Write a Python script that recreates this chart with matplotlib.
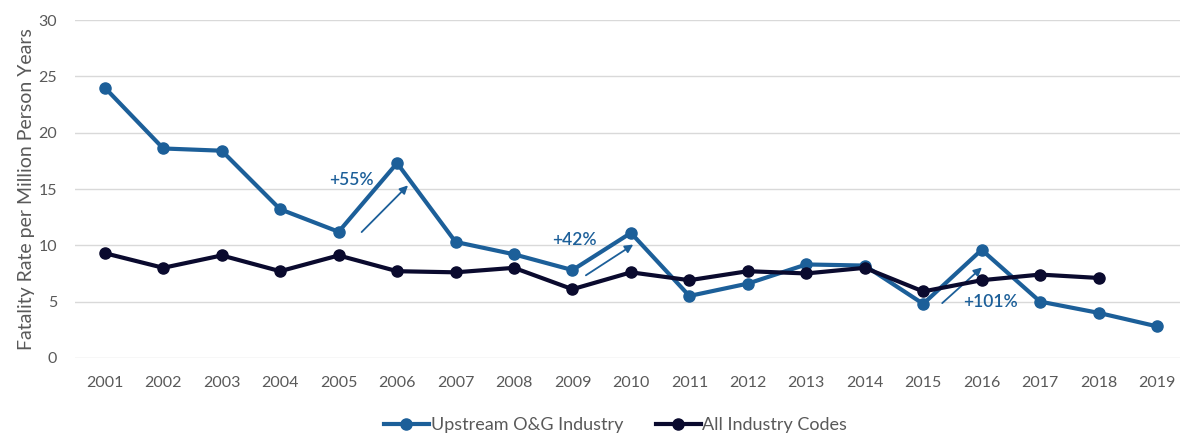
import matplotlib.pyplot as plt

years = list(range(2001, 2020))
upstream = [24.0, 18.6, 18.4, 13.2, 11.2, 17.3, 10.3, 9.2, 7.8, 11.1,
            5.5, 6.6, 8.3, 8.2, 4.8, 9.6, 5.0, 4.0, 2.8]
all_years = list(range(2001, 2019))
all_industry = [9.3, 8.0, 9.1, 7.7, 9.1, 7.7, 7.6, 8.0, 6.1, 7.6,
                6.9, 7.7, 7.5, 8.0, 5.9, 6.9, 7.4, 7.1]

blue = '#1c5f99'
navy = '#0a0a2e'
grey = '#595959'

plt.rcParams['font.family'] = ['Lato', 'DejaVu Sans']

fig = plt.figure(figsize=(11.81, 4.37), dpi=100)
ax = fig.add_axes([0.0635, 0.181, 0.936, 0.773])

ax.plot(years, upstream, color=blue, lw=3, marker='o', ms=8,
        label='Upstream O&G Industry', zorder=3)
ax.plot(all_years, all_industry, color=navy, lw=3, marker='o', ms=8,
        label='All Industry Codes', zorder=4)

# Подписи с процентами и стрелки
notes = [('+55%', (2005.22, 15.8), (2005.36, 11.0), (2006.22, 15.5)),
         ('+42%', (2009.03, 10.5), (2009.19, 7.2), (2010.08, 10.2)),
         ('+101%', (2016.15, 5.0), (2015.29, 4.7), (2016.04, 8.2))]
for text, pos, start, end in notes:
    ax.text(pos[0], pos[1], text, color=blue, fontsize=12.5,
            fontweight='semibold', ha='center', va='center')
    ax.annotate('', xy=end, xytext=start,
                arrowprops=dict(arrowstyle='-|>', color=blue, lw=1.3,
                                mutation_scale=12))

ax.set_xlim(2000.49, 2019.4)
ax.set_ylim(0, 30)
ax.set_yticks(range(0, 31, 5))
ax.set_xticks(years)
ax.grid(axis='y', color='#d9d9d9', lw=1)
ax.set_axisbelow(True)
for s in ax.spines.values():
    s.set_visible(False)
ax.tick_params(axis='both', length=0, labelsize=11.5, colors=grey)
ax.tick_params(axis='x', pad=13)
ax.tick_params(axis='y', pad=13)
ax.set_ylabel('Fatality Rate per Million Person Years', fontsize=14,
              color=grey, labelpad=2)

ax.legend(loc='center', bbox_to_anchor=(0.489, -0.2), ncol=2,
          frameon=False, fontsize=13, labelcolor=grey, handlelength=2.5,
          handletextpad=0.1, columnspacing=1.8)

fig.savefig('out.png', dpi=100)
